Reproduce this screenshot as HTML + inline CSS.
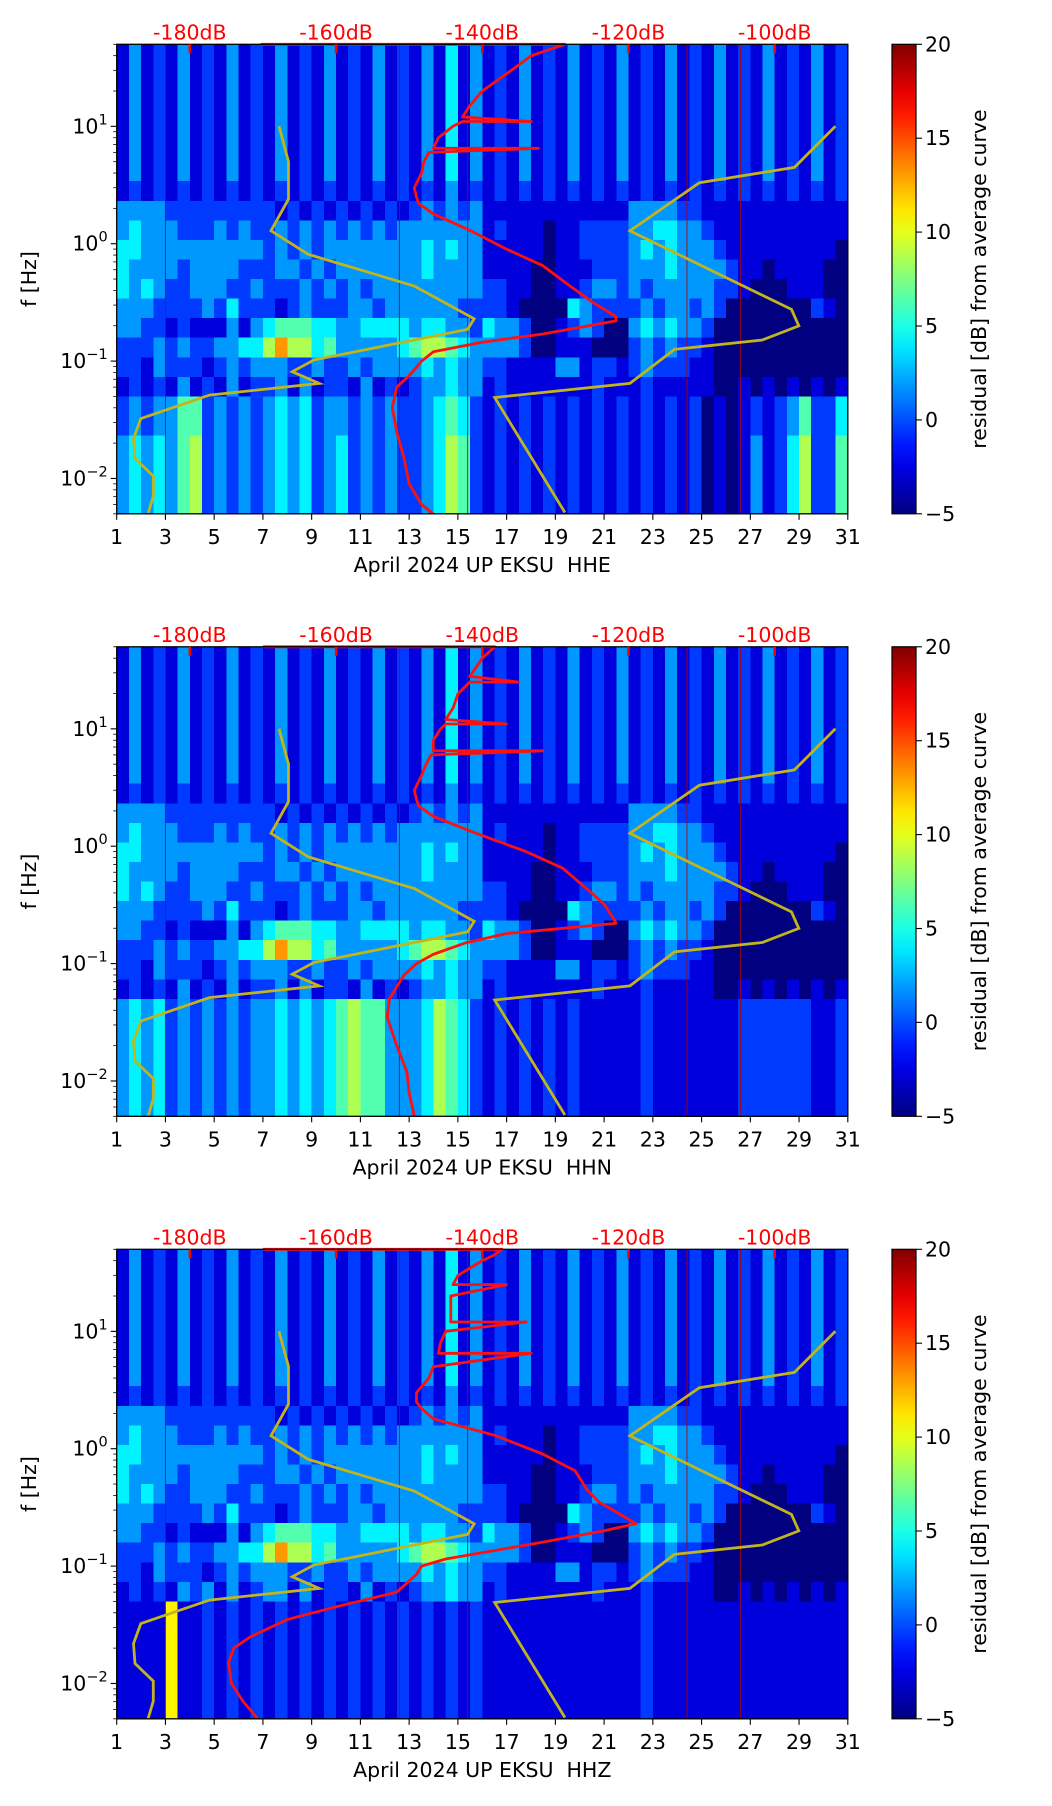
<!DOCTYPE html>
<html><head><meta charset="utf-8"><style>
html,body{margin:0;padding:0;background:#fff;}
svg{display:block;font-family:"DejaVu Sans","Liberation Sans",sans-serif;}
</style></head><body>
<svg id="fig" width="1052" height="1806" viewBox="0 0 1052 1806" xmlns="http://www.w3.org/2000/svg"></svg>
<script>
// ---- data ----
const panelNames = ["HHE", "HHN", "HHZ"];
const xTickDays = [1,3,5,7,9,11,13,15,17,19,21,23,25,27,29,31];
const dbTicks = [-180,-160,-140,-120,-100];
const cbTicks = [20,15,10,5,0,-5];
const vLineDays = [3.0, 12.6, 15.4, 24.4, 26.6];
const hiRow = "131213 121312 131213 121312 131413 121312 131213 121312 131213 121312";
const heatRowsE = [hiRow,hiRow,hiRow,hiRow,hiRow,hiRow,hiRow,
"121212 121212 121212 121212 121312 121212 121212 121212 121212 121212",
"333322 222222 212121 212121 232323 111111 111111 333322 111111 111111",
"343332 223232 232323 232323 333333 121110 112222 334433 211111 111111",
"443333 333333 232323 333333 343433 111110 112222 343433 321111 111110",
"433332 333322 233232 333333 343333 111100 111222 333433 332110 111100",
"434322 333223 222323 232333 333333 221100 112332 323333 322100 011100",
"333222 232422 212322 233233 333322 221000 043222 232332 320000 000210",
"332212 111313 455544 334444 344332 433200 123200 343433 200000 000000",
"222323 223344 686645 333334 566543 333200 111000 232322 100000 000000",
"221322 212323 332232 232333 343433 221111 331221 232221 100000 000000",
"121213 121312 231312 213121 233433 121111 111211 121111 100101 010101",
"232335 523232 343423 323232 234542 121212 121212 121212 010121 235224",
"232335 523232 343423 323232 234542 121212 121212 121212 010121 235224",
"343435 623232 343423 423232 234652 121212 121212 121212 010131 246225",
"343435 623232 343423 423232 234652 121212 121212 121212 010131 246225",
"343435 623232 343423 423232 234652 121212 121212 121212 010131 246225",
"343435 623232 343423 423232 234652 121212 121212 121212 010131 246225"];
const lowN = "343423 232323 343434 565533 346542 121212 121111 121111 111222 222112";
const heatRowsN = heatRowsE.slice(0,18).concat([lowN,lowN,lowN,lowN,lowN,lowN]);
const lowZ = "111171 121212 121212 121212 121212 111111 111111 121111 111111 111111";
const heatRowsZ = heatRowsE.slice(0,17).concat([
"121213 231312 331312 213121 233433 121111 111211 121111 100101 010101",
lowZ,lowZ,lowZ,lowZ,lowZ,lowZ]);
const heatRows = [heatRowsE, heatRowsN, heatRowsZ];

const redFreqE = [50,50,40,28,20,15,12,11,11,10,8,6.5,6.5,6,5,4,3,2.5,2.2,1.8,1.3,0.9,0.65,0.45,0.32,0.24,0.22,0.17,0.145,0.12,0.1,0.075,0.06,0.04,0.025,0.015,0.009,0.006,0.005];
const redDbE = [-170.3,-128.7,-133.3,-136.7,-140,-141.7,-142.7,-133.3,-142.7,-144,-146,-146.7,-132.3,-147.3,-148,-148.3,-149.3,-149,-148.7,-146.7,-141.7,-136.7,-131.7,-128.3,-125,-121.7,-121.7,-131.7,-140,-146.7,-148.3,-150,-151.7,-152.3,-151.7,-150.7,-150,-148.3,-146.7];
const redFreqN = [50,50,40,28,25,25,20,15,12,11,11,10,8,6.5,6.5,6,5,4,3,2.5,2.2,1.8,1.3,0.9,0.65,0.45,0.32,0.24,0.22,0.18,0.15,0.12,0.1,0.08,0.05,0.035,0.02,0.012,0.008,0.005];
const redDbN = [-170,-138.3,-140,-141.7,-135,-141.7,-143.3,-144,-145,-136.7,-145,-145.7,-146.7,-146.7,-131.7,-147,-147.7,-148.3,-149.3,-149,-148.7,-146.7,-141,-134,-129,-126,-123.3,-122,-121.7,-136.7,-142.3,-146.7,-149,-150.7,-152.7,-153,-151.7,-150.3,-150,-149.3];
const redFreqZ = [50,50,45,40,30,25,25,20,15,12,12,10,8,6.5,6.5,5,4,3,2.5,2.2,1.8,1.3,0.9,0.65,0.45,0.35,0.28,0.23,0.2,0.16,0.115,0.1,0.085,0.06,0.045,0.035,0.025,0.02,0.015,0.01,0.007,0.005];
const redDbZ = [-170,-137.3,-138.3,-140,-143.3,-144,-136.7,-144.3,-144.3,-144.3,-134,-145,-145.7,-146,-133.3,-146.7,-147.3,-149,-149,-148.3,-146.7,-138.3,-131.7,-127.3,-125.7,-124,-121.3,-119,-123.3,-131.7,-145,-148.3,-149,-151.7,-160,-166.7,-171.7,-174,-174.7,-174.3,-172.7,-170.7];
const redFreqs = [redFreqE, redFreqN, redFreqZ];
const redDbs = [redDbE, redDbN, redDbZ];

const nlnmLogF = [1,0.70,0.38,0.11,-0.09,-0.36,-0.64,-0.73,-0.99,-1.09,-1.19,-1.29,-1.49,-1.66,-1.83,-1.98,-2.15,-2.3];
const nlnmDb = [-167.8,-166.5,-166.5,-168.9,-163.8,-149.3,-141.1,-142,-163,-166,-162.3,-177.3,-186.7,-187.7,-187.5,-185,-185,-185.7];
const nhnmLogF = [1,0.65,0.52,0.11,-0.56,-0.70,-0.82,-0.90,-1.19,-1.31,-2.29];
const nhnmDb = [-91.7,-97.3,-110.3,-119.8,-97.7,-96.7,-101.7,-113.7,-119.8,-138.3,-128.7];

// ---- layout ----
const NS = "http://www.w3.org/2000/svg";
const svg = document.getElementById('fig');
const X0 = 116.7, DAYW = 24.37, H = 469.5;
const tops = [44.3, 646.8, 1249.3];
const X1 = X0 + 30*DAYW;
const CBX = 892, CBW = 24;
const FS = 20.5;
function xDay(d){ return X0 + (d-1)*DAYW; }
function xDb(db){ return xDay(4 + (db+180)*0.3); }
function yF(top,f){ return top + (Math.log10(50)-Math.log10(f))/4*H; }
function yLog(top,lf){ return top + (Math.log10(50)-lf)/4*H; }
function el(tag, attrs, parent){ const e=document.createElementNS(NS,tag); for(const k in attrs) e.setAttribute(k,attrs[k]); (parent||svg).appendChild(e); return e; }
function jet(t){ const c=v=>Math.round(255*Math.max(0,Math.min(1,v))); return `rgb(${c(1.5-Math.abs(4*t-3))},${c(1.5-Math.abs(4*t-2))},${c(1.5-Math.abs(4*t-1))})`; }

const defs = el('defs',{});
const grad = el('linearGradient',{id:'jetg',x1:0,y1:1,x2:0,y2:0},defs);
for(let i=0;i<=20;i++){ el('stop',{offset:(i/20),'stop-color':jet(i/20)},grad); }

panelNames.forEach((pn,p)=>{
  const top = tops[p];
  const g = el('g',{});
  
  
  const hm = el('g',{'shape-rendering':'crispEdges'},g);
  
  
  const rows = heatRows[p].map(r=>r.replace(/ /g,''));
  const nr = rows.length, nc = rows[0].length;
  rows.forEach((r,ri)=>{
    for(let ci=0;ci<nc;ci++){
      const d = +r[ci];
      const dayA = 1 + ci*30/nc, dayB = 1 + (ci+1)*30/nc;
      const lfA = Math.log10(50) - ri*4/nr, lfB = Math.log10(50) - (ri+1)*4/nr;
      const rc = el('rect',{x:xDay(dayA),y:yLog(top,lfA),width:xDay(dayB)-xDay(dayA)+0.5,height:yLog(top,lfB)-yLog(top,lfA)+0.5,fill:jet(d/11)},hm);
      
      
    }
  });
  vLineDays.forEach(d=>{
    const l = el('line',{x1:xDay(d),x2:xDay(d),y1:top,y2:top+H,stroke:'#b00000','stroke-width':1,opacity:0.85},g);
    
    
  });
  const cp = el('clipPath',{id:'clip'+p},defs);
  el('rect',{x:X0,y:top-2,width:X1-X0,height:H+2},cp);
  const pathFrom=(lfs,dbs)=>lfs.map((lf,i)=>(i?'L':'M')+xDb(dbs[i]).toFixed(1)+','+yLog(top,lf).toFixed(1)).join('');
  const nl = el('path',{d:pathFrom(nlnmLogF,nlnmDb),fill:'none',stroke:'#c2b41c','stroke-width':2.8,'clip-path':`url(#clip${p})`},g);
  
  
  const nh = el('path',{d:pathFrom(nhnmLogF,nhnmDb),fill:'none',stroke:'#c2b41c','stroke-width':2.8,'clip-path':`url(#clip${p})`},g);
  
  
  const fr = redFreqs[p], dr = redDbs[p];
  const rd = fr.map((f,i)=>(i?'L':'M')+xDb(dr[i]).toFixed(1)+','+yF(top,f).toFixed(1)).join('');
  const rp = el('path',{d:rd,fill:'none',stroke:'#ff1010','stroke-width':2.8,'stroke-linejoin':'round','clip-path':`url(#clip${p})`},g);
  
  
  const fr2 = el('rect',{x:X0,y:top,width:X1-X0,height:H,fill:'none',stroke:'#000','stroke-width':1.3},g);
  
  
  xTickDays.forEach(d=>{
    el('line',{x1:xDay(d),x2:xDay(d),y1:top+H,y2:top+H+6,stroke:'#000','stroke-width':1.1},g);
    const t = el('text',{x:xDay(d),y:top+H+30,'font-size':FS,'text-anchor':'middle',fill:'#000'},g);
    t.textContent = d;
    
    
  });
  const xl = el('text',{x:(X0+X1)/2,y:top+H+58,'font-size':FS,'text-anchor':'middle',fill:'#000',style:'white-space:pre'},g);
  xl.textContent = 'April 2024 UP EKSU  ' + pn;
  
  
  dbTicks.forEach(db=>{
    el('line',{x1:xDb(db),x2:xDb(db),y1:top,y2:top+9,stroke:'#ff0000','stroke-width':2.5},g);
    const t = el('text',{x:xDb(db),y:top-5,'font-size':FS,'text-anchor':'middle',fill:'#ff0000'},g);
    t.textContent = db+'dB';
    
    
  });
  for(let e=-3;e<=1;e++){
    for(let m=1;m<=9;m++){
      const f = m*Math.pow(10,e);
      if(f<0.005-1e-9 || f>50+1e-9) continue;
      const y = yF(top,f);
      el('line',{x1:X0,x2:X0-(m===1?6:3.5),y1:y,y2:y,stroke:'#000','stroke-width':m===1?1.1:0.8},g);
      if(m===1){
        const t = el('text',{x:X0-9,y:y+7,'font-size':FS,'text-anchor':'end',fill:'#000'},g);
        t.innerHTML = '10<tspan dy="-9" font-size="14.5">'+(e<0?'\u2212'+(-e):e)+'</tspan>';
        
        
      }
    }
  }
  const yl = el('text',{x:36,y:top+H/2,'font-size':FS,'text-anchor':'middle',transform:`rotate(-90 36 ${top+H/2})`,fill:'#000'},g);
  yl.textContent = 'f [Hz]';
  
  
  const cb = el('rect',{x:CBX,y:top,width:CBW,height:H,fill:'url(#jetg)',stroke:'#000','stroke-width':1.2},g);
  
  
  cbTicks.forEach(v=>{
    const y = top + (20-v)/25*H;
    el('line',{x1:CBX+CBW,x2:CBX+CBW+6,y1:y,y2:y,stroke:'#000','stroke-width':1.1},g);
    const t = el('text',{x:CBX+CBW+9,y:y+7,'font-size':FS,fill:'#000'},g);
    t.textContent = v<0 ? '\u2212'+(-v) : v;
    
    
  });
  const cl = el('text',{x:986,y:top+H/2,'font-size':FS,'text-anchor':'middle',transform:`rotate(-90 986 ${top+H/2})`,fill:'#000'},g);
  cl.textContent = 'residual [dB] from average curve';
  
  
});
</script>
</body></html>
